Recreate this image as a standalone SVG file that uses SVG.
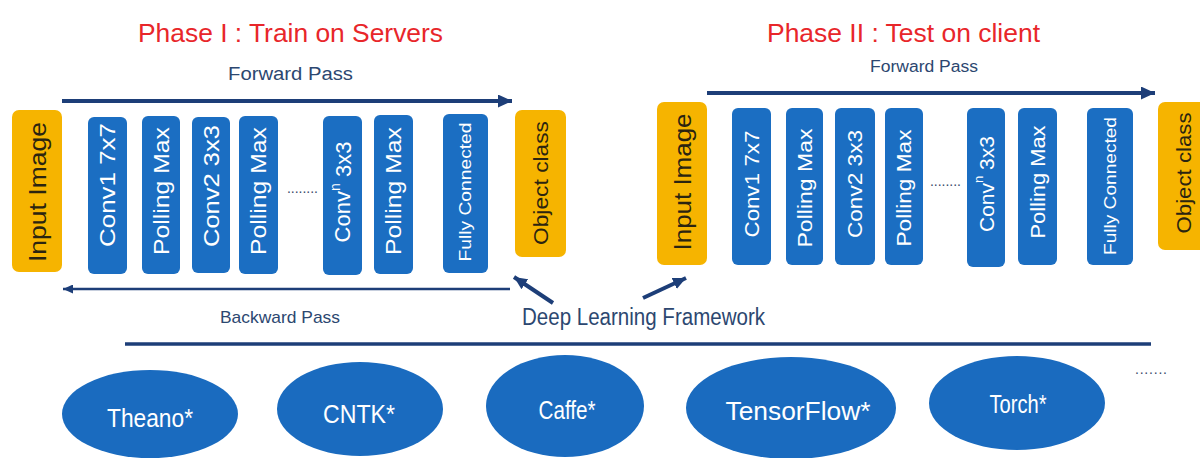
<svg xmlns="http://www.w3.org/2000/svg" width="1200" height="458" viewBox="0 0 1200 458">
<style>
  .bg{fill:#ffffff}
  .title{font-family:"Liberation Sans",Arial,sans-serif;font-size:26px;fill:#e8262a}
  .pass{font-family:"Liberation Sans",Arial,sans-serif;fill:#2c4770}
  .blue{fill:#1b6ec2}
  .gold{fill:#f6b400}
  .wl{font-family:"Liberation Sans",Arial,sans-serif;fill:#ffffff;text-anchor:middle;dominant-baseline:central}
  .dl{font-family:"Liberation Sans",Arial,sans-serif;fill:#2b2410;text-anchor:middle;dominant-baseline:central}
  .el{fill:#1a6bbf}
  .et{font-family:"Liberation Sans",Arial,sans-serif;font-size:25px;fill:#ffffff;text-anchor:middle}
  .dots{font-family:"Liberation Sans",Arial,sans-serif;font-size:14px;fill:#3a4a6a}
  .ln{stroke:#1d3e78;fill:none}
</style>
<defs>
  <marker id="ah" markerUnits="userSpaceOnUse" markerWidth="14" markerHeight="13" viewBox="0 0 14 13" refX="14" refY="6.5" orient="auto">
    <path d="M0,0 L14,6.5 L0,13 z" fill="#1d3e78"/>
  </marker>
  <marker id="ahs" markerUnits="userSpaceOnUse" markerWidth="10" markerHeight="9" viewBox="0 0 10 9" refX="10" refY="4.5" orient="auto">
    <path d="M0,0 L10,4.5 L0,9 z" fill="#1d3e78"/>
  </marker>
  <marker id="ahd" markerUnits="userSpaceOnUse" markerWidth="13" markerHeight="12" viewBox="0 0 13 12" refX="13" refY="6" orient="auto">
    <path d="M0,0 L13,6 L0,12 z" fill="#1d3e78"/>
  </marker>
</defs>
<rect class="bg" x="0" y="0" width="1200" height="458"/>

<!-- titles -->
<g id="titles">
  <text class="title" x="138" y="42" textLength="305" lengthAdjust="spacingAndGlyphs">Phase I : Train on Servers</text>
  <text class="title" x="767" y="42" textLength="273" lengthAdjust="spacingAndGlyphs">Phase II : Test on client</text>
  <text class="pass" x="228" y="80" font-size="18" textLength="125" lengthAdjust="spacingAndGlyphs">Forward Pass</text>
  <text class="pass" x="870" y="72" font-size="16" textLength="108" lengthAdjust="spacingAndGlyphs">Forward Pass</text>
  <text class="pass" x="220" y="323" font-size="17" textLength="120" lengthAdjust="spacingAndGlyphs">Backward Pass</text>
  <text class="pass" x="522" y="325" font-size="23" fill="#1f3c6e" textLength="243" lengthAdjust="spacingAndGlyphs">Deep Learning Framework</text>
</g>

<!-- connectors -->
<g id="connectors">
  <line class="ln" x1="62" y1="101" x2="512" y2="101" stroke-width="4" marker-end="url(#ah)"/>
  <line class="ln" x1="510" y1="289" x2="63" y2="289" stroke-width="2.5" marker-end="url(#ahs)"/>
  <line class="ln" x1="707" y1="93" x2="1155" y2="93" stroke-width="4" marker-end="url(#ah)"/>
  <line class="ln" x1="553" y1="303" x2="514" y2="277" stroke-width="4" marker-end="url(#ahd)"/>
  <line class="ln" x1="643" y1="298" x2="686" y2="278" stroke-width="4" marker-end="url(#ahd)"/>
  <line class="ln" x1="125" y1="344" x2="1151" y2="344" stroke-width="3.5"/>
</g>

<!-- Phase I nodes -->
<g id="p1-input"><rect class="gold" x="12" y="110" width="50" height="162" rx="7"/>
  <text class="dl" transform="translate(37,192) rotate(-90)" font-size="24" textLength="140" lengthAdjust="spacingAndGlyphs">Input Image</text></g>
<g id="p1-conv1"><rect class="blue" x="88" y="117" width="39" height="157" rx="6"/>
  <text class="wl" transform="translate(107.5,185) rotate(-90)" font-size="22" textLength="124" lengthAdjust="spacingAndGlyphs">Conv1 7x7</text></g>
<g id="p1-pool1"><rect class="blue" x="142" y="116" width="38" height="158" rx="6"/>
  <text class="wl" transform="translate(161,191) rotate(-90)" font-size="22" textLength="128" lengthAdjust="spacingAndGlyphs">Polling Max</text></g>
<g id="p1-conv2"><rect class="blue" x="192" y="117" width="38" height="156" rx="6"/>
  <text class="wl" transform="translate(211,186) rotate(-90)" font-size="22" textLength="122" lengthAdjust="spacingAndGlyphs">Conv2 3x3</text></g>
<g id="p1-pool2"><rect class="blue" x="239" y="116" width="39" height="158" rx="6"/>
  <text class="wl" transform="translate(258.5,191) rotate(-90)" font-size="22" textLength="128" lengthAdjust="spacingAndGlyphs">Polling Max</text></g>
<g id="p1-dots"><text class="dots" x="287" y="193" textLength="31" lengthAdjust="spacing">........</text></g>
<g id="p1-convn"><rect class="blue" x="323" y="116" width="39" height="159" rx="6"/>
  <text class="wl" transform="translate(342.5,192) rotate(-90)" font-size="22">Conv<tspan font-size="14" dy="-8">n</tspan><tspan dy="8"> 3x3</tspan></text></g>
<g id="p1-pool3"><rect class="blue" x="374" y="115" width="39" height="159" rx="6"/>
  <text class="wl" transform="translate(393.5,191) rotate(-90)" font-size="22" textLength="128" lengthAdjust="spacingAndGlyphs">Polling Max</text></g>
<g id="p1-fc"><rect class="blue" x="443" y="114" width="45" height="159" rx="6"/>
  <text class="wl" transform="translate(465.5,192) rotate(-90)" font-size="17" textLength="139" lengthAdjust="spacingAndGlyphs">Fully Connected</text></g>
<g id="p1-out"><rect class="gold" x="515" y="110" width="51" height="147" rx="7"/>
  <text class="dl" transform="translate(540.5,183) rotate(-90)" font-size="21" textLength="124" lengthAdjust="spacingAndGlyphs">Object class</text></g>

<!-- Phase II nodes -->
<g id="p2-input"><rect class="gold" x="657" y="102" width="50" height="163" rx="7"/>
  <text class="dl" transform="translate(682,182) rotate(-90)" font-size="24" textLength="137" lengthAdjust="spacingAndGlyphs">Input Image</text></g>
<g id="p2-conv1"><rect class="blue" x="732" y="108" width="39" height="157" rx="6"/>
  <text class="wl" transform="translate(751.5,184) rotate(-90)" font-size="20" textLength="107" lengthAdjust="spacingAndGlyphs">Conv1 7x7</text></g>
<g id="p2-pool1"><rect class="blue" x="786" y="108" width="37" height="157" rx="6"/>
  <text class="wl" transform="translate(804.5,188) rotate(-90)" font-size="20" textLength="119" lengthAdjust="spacingAndGlyphs">Polling Max</text></g>
<g id="p2-conv2"><rect class="blue" x="835" y="108" width="40" height="157" rx="6"/>
  <text class="wl" transform="translate(855,184) rotate(-90)" font-size="20" textLength="108" lengthAdjust="spacingAndGlyphs">Conv2 3x3</text></g>
<g id="p2-pool2"><rect class="blue" x="885" y="108" width="38" height="157" rx="6"/>
  <text class="wl" transform="translate(904,188) rotate(-90)" font-size="20" textLength="117" lengthAdjust="spacingAndGlyphs">Polling Max</text></g>
<g id="p2-dots"><text class="dots" x="930" y="186" textLength="31" lengthAdjust="spacing">........</text></g>
<g id="p2-convn"><rect class="blue" x="967" y="108" width="38" height="159" rx="6"/>
  <text class="wl" transform="translate(986,184) rotate(-90)" font-size="21">Conv<tspan font-size="13" dy="-8">n</tspan><tspan dy="8"> 3x3</tspan></text></g>
<g id="p2-pool3"><rect class="blue" x="1018" y="108" width="39" height="157" rx="6"/>
  <text class="wl" transform="translate(1037.5,182) rotate(-90)" font-size="20" textLength="113" lengthAdjust="spacingAndGlyphs">Polling Max</text></g>
<g id="p2-fc"><rect class="blue" x="1087" y="108" width="46" height="157" rx="6"/>
  <text class="wl" transform="translate(1110,186) rotate(-90)" font-size="16" textLength="138" lengthAdjust="spacingAndGlyphs">Fully Connected</text></g>
<g id="p2-out"><rect class="gold" x="1158" y="102" width="52" height="148" rx="7"/>
  <text class="dl" transform="translate(1183,173) rotate(-90)" font-size="21" textLength="121" lengthAdjust="spacingAndGlyphs">Object class</text></g>

<!-- frameworks -->
<g id="fw-theano"><ellipse class="el" cx="150" cy="414" rx="88" ry="44"/>
  <text class="et" x="150" y="427" textLength="86" lengthAdjust="spacingAndGlyphs">Theano*</text></g>
<g id="fw-cntk"><ellipse class="el" cx="360" cy="409" rx="83" ry="47"/>
  <text class="et" x="359" y="423" textLength="72" lengthAdjust="spacingAndGlyphs">CNTK*</text></g>
<g id="fw-caffe"><ellipse class="el" cx="565" cy="406" rx="79" ry="51"/>
  <text class="et" x="567" y="419" textLength="57" lengthAdjust="spacingAndGlyphs">Caffe*</text></g>
<g id="fw-tf"><ellipse class="el" cx="791" cy="408" rx="105" ry="51"/>
  <text class="et" x="798" y="420" textLength="145" lengthAdjust="spacingAndGlyphs">TensorFlow*</text></g>
<g id="fw-torch"><ellipse class="el" cx="1017" cy="403" rx="88" ry="47"/>
  <text class="et" x="1018" y="413" textLength="57" lengthAdjust="spacingAndGlyphs">Torch*</text></g>
<g id="fw-more"><text class="dots" x="1135" y="374" textLength="32" lengthAdjust="spacing">.......</text></g>
</svg>
